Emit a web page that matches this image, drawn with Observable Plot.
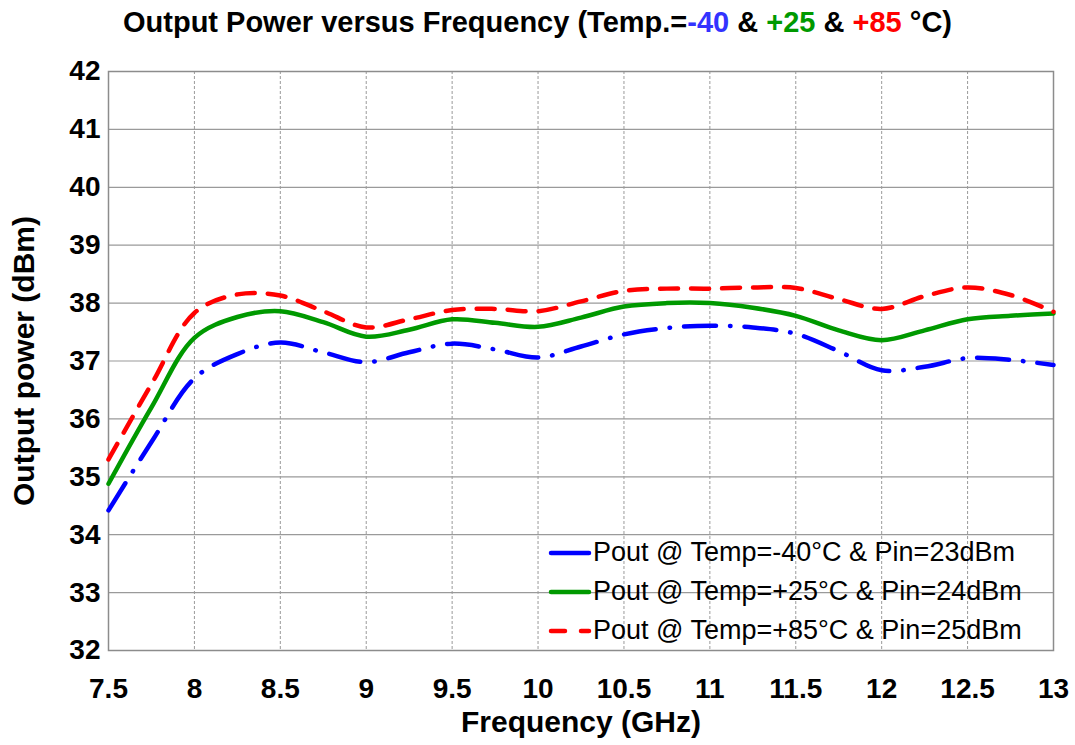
<!DOCTYPE html>
<html>
<head>
<meta charset="utf-8">
<script src="https://cdn.jsdelivr.net/npm/d3@7"></script>
<script src="https://cdn.jsdelivr.net/npm/@observablehq/plot@0.6"></script>
<style>
  html, body { margin: 0; padding: 0; background: #fff; }
  #wrap { position: relative; width: 1075px; height: 745px; font-family: "Liberation Sans", Arial, sans-serif; }
  #title { height: 45px; line-height: 44px; text-align: center; font-weight: bold; font-size: 29px; color: #000; white-space: nowrap; padding-left: 0px; }
  #legend { position: absolute; left: 548px; top: 533px; font-size: 27px; color: #000; }
  .row { height: 39px; display: flex; align-items: center; white-space: nowrap; }
  .row svg { width: 44px; height: 10px; margin-right: 1px; }
</style>
</head>
<body>
<div id="wrap">
  <div id="title">Output Power versus Frequency (Temp.=<span style="color:#3333ff">-40</span> &amp; <span style="color:#009900">+25</span> &amp; <span style="color:#ff0000">+85</span> °C)</div>
  <div id="chart"></div>
  <div id="legend"></div>
</div>
<script>
const freq = [7.5, 7.75, 8, 8.25, 8.5, 8.75, 9, 9.25, 9.5, 9.75, 10, 10.25, 10.5, 10.75, 11, 11.25, 11.5, 11.75, 12, 12.25, 12.5, 12.75, 13];
const poutM40 = [34.42, 35.6, 36.7, 37.12, 37.32, 37.15, 36.98, 37.15, 37.3, 37.2, 37.06, 37.25, 37.46, 37.57, 37.61, 37.58, 37.47, 37.17, 36.84, 36.9, 37.05, 37.02, 36.93];
const poutP25 = [34.88, 36.2, 37.4, 37.76, 37.86, 37.67, 37.42, 37.54, 37.72, 37.66, 37.59, 37.75, 37.94, 38.0, 38.0, 37.92, 37.78, 37.53, 37.36, 37.53, 37.72, 37.78, 37.82];
const poutP85 = [35.3, 36.6, 37.83, 38.15, 38.13, 37.86, 37.58, 37.72, 37.88, 37.9, 37.86, 38.03, 38.21, 38.25, 38.25, 38.27, 38.26, 38.07, 37.9, 38.12, 38.27, 38.14, 37.85];
const seriesNames = ["Pout @ Temp=-40°C & Pin=23dBm", "Pout @ Temp=+25°C & Pin=24dBm", "Pout @ Temp=+85°C & Pin=25dBm"];
const seriesColors = ["#0000ff", "#009900", "#ff0000"];
const seriesDash = ["32,14,0.5,14", null, "18,13"];
const xTicks = [7.5, 8, 8.5, 9, 9.5, 10, 10.5, 11, 11.5, 12, 12.5, 13];
const yTicks = [32, 33, 34, 35, 36, 37, 38, 39, 40, 41, 42];
const xTitle = "Frequency (GHz)";
const yTitle = "Output power (dBm)";

const seriesValues = [poutM40, poutP25, poutP85];
const data = seriesValues.map((vals, i) => freq.map((f, j) => ({f, v: vals[j], s: seriesNames[i]})));

const font = "'Liberation Sans', Arial, sans-serif";
const chart = Plot.plot({
  width: 1075,
  height: 700,
  marginLeft: 108,
  marginRight: 22,
  marginTop: 26,
  marginBottom: 95,
  style: {fontFamily: font, fontSize: "28px", fontWeight: "bold", color: "#000", background: "#fff"},
  x: {domain: [7.5, 13], label: null},
  y: {domain: [32, 42], label: null},
  marks: [
    Plot.gridY(yTicks, {stroke: "#9a9a9a", strokeOpacity: 1, strokeWidth: 1.2}),
    Plot.gridX(xTicks, {stroke: "#9a9a9a", strokeOpacity: 1, strokeWidth: 1, strokeDasharray: "3,2"}),
    Plot.frame({stroke: "#8c8c8c", strokeWidth: 1.5}),
    Plot.axisX(xTicks, {tickSize: 0, tickPadding: 28, tickFormat: d => String(d), label: null, fontWeight: "bold"}),
    Plot.axisY(yTicks, {tickSize: 0, tickPadding: 8, tickFormat: d => String(d), label: null, fontWeight: "bold"}),
    Plot.text([xTitle], {frameAnchor: "bottom", dy: 72, textAnchor: "middle", lineAnchor: "middle", fontSize: 30, fontWeight: "bold"}),
    Plot.text([yTitle], {frameAnchor: "left", dx: -84, rotate: -90, textAnchor: "middle", lineAnchor: "middle", fontSize: 30, fontWeight: "bold"}),
    ...data.map((d, i) => Plot.line(d, {
      x: "f", y: "v", curve: "catmull-rom",
      stroke: seriesColors[i], strokeWidth: 4.5,
      strokeDasharray: seriesDash[i], strokeLinecap: "round"
    }))
  ]
});
document.getElementById("chart").appendChild(chart);

const legend = document.getElementById("legend");
seriesNames.forEach((name, i) => {
  const row = document.createElement("div");
  row.className = "row";
  const dash = i === 2 ? "stroke-dasharray='14,16'" : "";
  row.innerHTML = `<svg viewBox="0 0 44 10"><line x1="3" y1="5" x2="41" y2="5" stroke="${seriesColors[i]}" stroke-width="4.5" stroke-linecap="round" ${dash}/></svg><span>${name}</span>`;
  legend.appendChild(row);
});
</script>
</body>
</html>
